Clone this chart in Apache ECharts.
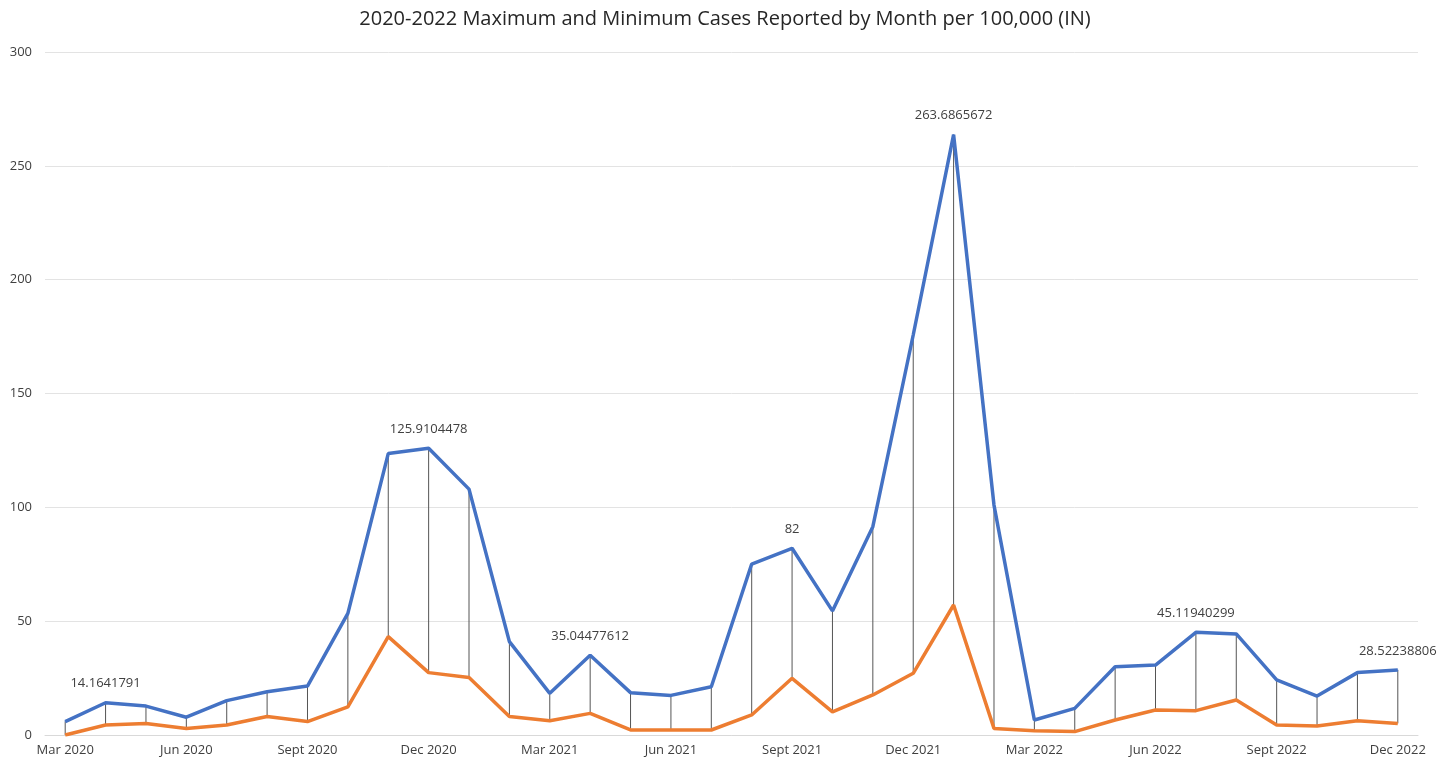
<!DOCTYPE html>
<html><head><meta charset="utf-8">
<script src="https://cdn.jsdelivr.net/npm/echarts@6/dist/echarts.min.js"></script>
<style>html,body{margin:0;padding:0;background:#fff}#c{width:1450px;height:765px}</style>
</head><body><div id="c"></div>
<script>
var months = ["Mar 2020","Apr 2020","May 2020","Jun 2020","Jul 2020","Aug 2020","Sept 2020","Oct 2020","Nov 2020","Dec 2020",
"Jan 2021","Feb 2021","Mar 2021","Apr 2021","May 2021","Jun 2021","Jul 2021","Aug 2021","Sept 2021","Oct 2021","Nov 2021","Dec 2021",
"Jan 2022","Feb 2022","Mar 2022","Apr 2022","May 2022","Jun 2022","Jul 2022","Aug 2022","Sept 2022","Oct 2022","Nov 2022","Dec 2022"];
var maxCases = [5.9,14.1641791,12.7,7.8,15.1,19.0,21.5,53.4,123.6,125.9104478,
108.0,41.0,18.3,35.04477612,18.6,17.4,21.2,75.1,82,54.5,91.5,175.7,
263.6865672,101,6.6,11.7,30.0,30.7,45.11940299,44.4,24.2,17.1,27.4,28.52238806];
var minCases = [0,4.4,5.1,2.9,4.4,8.1,5.9,12.4,43.2,27.4,
25.3,8.1,6.3,9.5,2.2,2.2,2.2,8.8,24.9,10.2,17.6,27.1,
57.1,2.9,1.9,1.5,6.6,11.0,10.7,15.4,4.4,4.0,6.3,5.1];
var labeledMonths = ["Apr 2020","Dec 2020","Apr 2021","Sept 2021","Jan 2022","Jul 2022","Dec 2022"];
var yTicks = {min:0, max:300, interval:50};

var chart = echarts.init(document.getElementById('c'), null, {renderer:'canvas'});
var font = "'Open Sans', 'Noto Sans', sans-serif";
var maxData = maxCases.map(function(v,i){
  var show = labeledMonths.indexOf(months[i]) >= 0;
  return {value:v, label:{show:show}};
});
chart.setOption({
  animation:false,
  title:{text:'2020-2022 Maximum and Minimum Cases Reported by Month per 100,000 (IN)', left:'center', top:4,
    textStyle:{fontFamily:font, fontSize:20, fontWeight:'normal', color:'#262626'}},
  grid:{left:45, right:32, top:52, bottom:30},
  xAxis:{type:'category', data:months, boundaryGap:true,
    axisLine:{lineStyle:{color:'#d9d9d9', width:1}}, axisTick:{show:false},
    axisLabel:{interval:2, color:'#404040', fontFamily:font, fontSize:13, margin:9}},
  yAxis:{type:'value', min:yTicks.min, max:yTicks.max, interval:yTicks.interval,
    axisLine:{show:false}, axisTick:{show:false},
    splitLine:{lineStyle:{color:'#e3e3e3', width:1}},
    axisLabel:{color:'#404040', fontFamily:font, fontSize:13, margin:13, align:'right'}},
  series:[
    {type:'custom', z:1, silent:true,
      renderItem:function(params, api){
        var i = api.value(0);
        var p1 = api.coord([i, api.value(1)]);
        var p2 = api.coord([i, api.value(2)]);
        return {type:'line', shape:{x1:p1[0], y1:p1[1], x2:p2[0], y2:p2[1]},
          style:{stroke:'#555', lineWidth:1}};
      },
      data:maxCases.map(function(v,i){return [i, v, minCases[i]];})
    },
    {name:'Max', type:'line', z:3, data:maxData, symbol:'circle', symbolSize:1, showSymbol:true,
      lineStyle:{color:'#4472C4', width:3.5}, itemStyle:{color:'#4472C4'},
      label:{show:false, position:'top', distance:12, color:'#404040', fontFamily:font, fontSize:13,
        formatter:function(p){return String(p.value);}}},
    {name:'Min', type:'line', z:2, data:minCases, symbol:'none',
      lineStyle:{color:'#ED7D31', width:3.5}, itemStyle:{color:'#ED7D31'}}
  ]
});
</script></body></html>
